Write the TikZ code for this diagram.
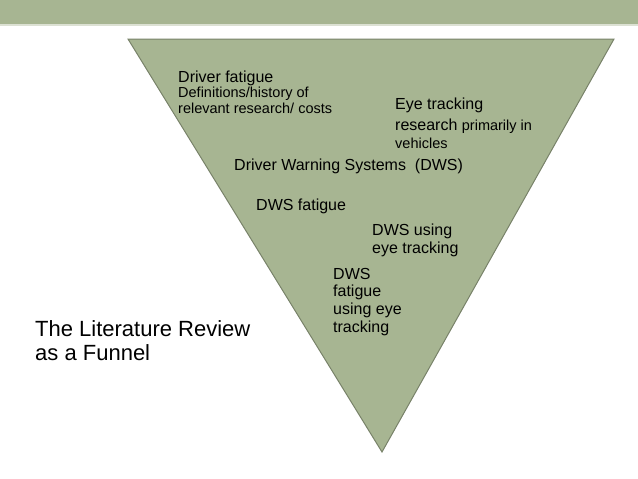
\documentclass[tikz,border=0pt]{standalone}
\usepackage{fontspec}
\setmainfont{Liberation Sans}
\begin{document}
\begin{tikzpicture}[x=1pt,y=-1pt,
 t/.style={anchor=west,inner sep=0pt,font=\fontsize{16}{18}\selectfont},
 s/.style={anchor=west,inner sep=0pt,font=\fontsize{14.5}{16}\selectfont},
 b/.style={anchor=west,inner sep=0pt,font=\fontsize{22}{24}\selectfont}]
\definecolor{sage}{RGB}{167,181,146}
\definecolor{edge}{RGB}{120,130,105}
\useasboundingbox (0,0) rectangle (638,479);
\fill[sage] (0,0) rectangle (638,24);
\fill[sage!40] (0,24) rectangle (638,26);
\draw[edge,fill=sage,line width=1pt] (128,39) -- (614,39) -- (382,452) -- cycle;
\node[t] (a) at (178,78) {Driver fatigue};
\node[s] (a1) at (178,94) {Definitions/history of};
\node[s] (a2) at (178,108) {relevant research/ costs};
\node[t] (e) at (395,105) {Eye tracking};
\node[t] (e1) at (395,126) {research {\fontsize{14.5}{16}\selectfont primarily in}};
\node[s] (e2) at (395,143) {vehicles};
\node[t] (d) at (234,166) {Driver Warning Systems\ \ (DWS)};
\node[t] (f) at (256,206) {DWS fatigue};
\node[t] (u) at (372,231) {DWS using};
\node[t] (u1) at (372,249) {eye tracking};
\node[t] (g) at (333,274) {DWS};
\node[t] (g1) at (333,292) {fatigue};
\node[t] (g2) at (333,310) {using eye};
\node[t] (g3) at (333,328) {tracking};
\node[b] (l) at (35,329) {The Literature Review};
\node[b] (l1) at (35,353) {as a Funnel};
\end{tikzpicture}
\end{document}
